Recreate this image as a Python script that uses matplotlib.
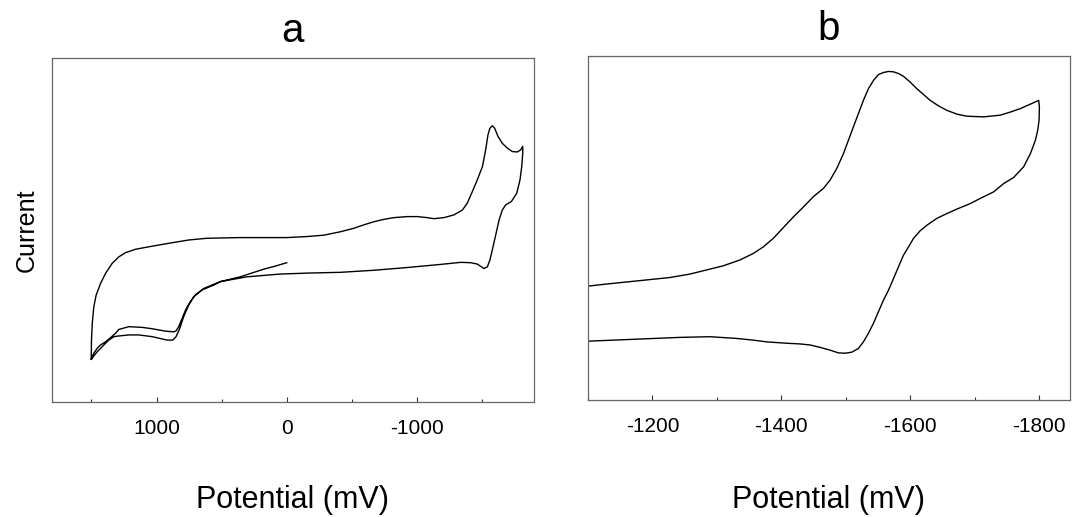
import numpy as np
import matplotlib
matplotlib.use('Agg')
import matplotlib.pyplot as plt
from matplotlib.ticker import MultipleLocator

plt.rcParams['font.family'] = ['Liberation Sans', 'DejaVu Sans']
plt.rcParams['axes.unicode_minus'] = False

# a: full scan, 0 mV -> +1500 -> -1810 -> +1500 (current in arbitrary units)
potential_a = [0, 88, 178, 357, 510, 638, 715, 753, 792, 822, 850, 876, 919, 1034, 1137, 1213, 1290, 1328, 1367,
               1405, 1430, 1456, 1482, 1494, 1502,
               1500, 1494, 1482, 1464, 1430, 1392, 1341, 1290, 1239, 1162, 1034, 881, 753, 613, 356, 0,
               -156, -285, -413, -515, -592, -669, -746, -823, -926, -1003, -1079, -1131, -1208, -1285, -1349,
               -1387, -1426, -1464, -1503, -1528, -1546, -1561, -1579, -1597, -1623, -1656, -1695, -1733, -1772,
               -1797, -1813,
               -1813, -1805, -1792, -1767, -1726, -1682, -1656, -1631, -1605, -1579, -1561, -1541, -1515, -1495,
               -1464, -1413, -1336, -1259, -1182, -926, -669, -413, -180, 50, 305, 510, 561, 650, 702, 740, 778,
               804, 830, 850, 868, 932, 1034, 1111, 1213, 1290, 1315, 1354, 1392, 1430, 1456, 1482, 1494, 1502]
current_a = [40.5, 39.5, 38.6, 36.4, 35.0, 33.0, 30.6, 28.2, 24.8, 21.4, 19.0, 18.0, 18.0, 19.0, 19.5, 19.5, 19.2, 19.0, 18.0,
             16.6, 15.6, 14.6, 13.4, 12.7, 12.4,
             18.0, 22.9, 27.7, 31.1, 34.5, 37.4, 40.3, 42.2, 43.4, 44.4, 45.3, 46.3, 47.1, 47.6, 47.8, 47.8,
             48.1, 48.5, 49.5, 50.5, 51.5, 52.4, 53.1, 53.6, 53.9, 53.9, 53.6, 53.3, 53.6, 54.4, 55.8,
             57.8, 61.2, 64.6, 68.4, 73.3, 77.7, 79.6, 80.3, 79.6, 77.2, 75.2, 73.8, 72.8, 72.7,
             73.3, 74.3,
             72.3, 68.4, 64.6, 60.7, 58.3, 57.3, 55.8, 52.9, 48.5, 44.2, 41.3, 39.3, 38.8, 39.3,
             40.1, 40.5, 40.6, 40.3, 40.0, 39.1, 38.3, 37.7, 37.5, 37.2, 36.4, 35.0, 34.0, 32.6, 31.1, 29.2, 26.7,
             24.3, 21.9, 20.7, 20.4, 20.6, 21.3, 21.7, 21.9, 21.1, 20.0, 18.7, 17.5, 16.6, 15.6, 14.2, 13.2, 12.4]

# b: -1100 -> -1800 -> -1100
potential_b = [-1100.0, -1123.3, -1149.2, -1190.7, -1226.9, -1258.0, -1283.9, -1309.8, -1335.7, -1356.5, -1372.0,
               -1387.6, -1403.1, -1418.6, -1434.2, -1449.7, -1465.3, -1475.6, -1486.0, -1496.4, -1504.1, -1511.9,
               -1519.7, -1527.4, -1535.2, -1543.0, -1550.8, -1558.5, -1566.3, -1574.1, -1581.8, -1589.6, -1600.0,
               -1610.3, -1620.7, -1631.0, -1644.0, -1657.0, -1672.5, -1688.0, -1714.0, -1739.9, -1755.4, -1770.9,
               -1786.5, -1799.4,
               -1800.5, -1800.0, -1797.9, -1794.3, -1786.5, -1776.1, -1760.6, -1745.0, -1729.5, -1708.8, -1693.2,
               -1672.5, -1657.0, -1641.4, -1625.9, -1615.5, -1605.2, -1597.4, -1589.6, -1581.8, -1574.1, -1566.3,
               -1558.5, -1550.8, -1543.0, -1535.2, -1527.4, -1519.7, -1509.3, -1498.9, -1488.6, -1475.6, -1460.1,
               -1444.5, -1429.0, -1408.3, -1392.7, -1377.2, -1356.5, -1330.6, -1289.1, -1242.5, -1190.7, -1139.1,
               -1100.0]
current_b = [33.1, 33.6, 34.1, 34.9, 35.6, 36.6, 37.8, 39.0, 40.7, 42.6, 44.5,
             47.0, 50.1, 53.2, 56.1, 59.1, 61.5, 63.9, 67.3, 71.6, 75.5, 79.4,
             83.3, 87.1, 90.5, 92.9, 94.6, 95.2, 95.5, 95.4, 94.9, 94.1, 92.4,
             90.5, 88.8, 87.1, 85.5, 84.2, 83.1, 82.5, 82.3, 82.8, 83.7, 84.7,
             86.0, 87.1,
             85.2, 81.3, 78.4, 75.5, 71.6, 67.8, 64.7, 62.9, 60.5, 58.6, 57.1,
             55.5, 54.2, 52.8, 50.8, 49.2, 47.0, 44.5, 42.1, 38.7, 35.3, 31.9,
             29.0, 25.7, 22.3, 19.4, 16.9, 15.0, 13.9, 13.6, 13.7, 14.5, 15.3,
             16.0, 16.3, 16.5, 16.7, 16.9, 17.4, 17.9, 18.4, 18.2, 17.8, 17.4,
             17.1]

fig = plt.figure(figsize=(10.73, 5.17), dpi=100)
ax1 = fig.add_axes([0.0485, 0.2224, 0.449, 0.6654])
ax2 = fig.add_axes([0.548, 0.2263, 0.4492, 0.6654])

ax1.plot(potential_a, current_a, color='black', lw=1.0)
ax2.plot(potential_b, current_b, color='black', lw=1.0)

ax1.set_xlim(1803, -1898)
ax1.set_ylim(0, 100)
ax1.xaxis.set_major_locator(MultipleLocator(1000))
ax1.xaxis.set_minor_locator(MultipleLocator(500))

ax2.set_xlim(-1100, -1848)
ax2.set_ylim(0, 100)
ax2.xaxis.set_major_locator(MultipleLocator(200))
ax2.xaxis.set_minor_locator(MultipleLocator(100))

for ax in (ax1, ax2):
    ax.set_yticks([])
    ax.tick_params(axis='x', which='major', direction='in', length=3.6, width=0.8, color='#333333',
                   labelsize=15, pad=12)
    ax.tick_params(axis='x', which='minor', direction='in', length=2.2, width=0.8, color='#333333')
    for s in ax.spines.values():
        s.set_color('#666666')
        s.set_linewidth(0.9)
    ax.set_xlabel('Potential (mV)', fontsize=22)

ax1.xaxis.set_label_coords(0.5, -0.24)
ax2.xaxis.set_label_coords(0.5, -0.246)

ax1.set_ylabel('Current', fontsize=18, va='center')
ax1.yaxis.set_label_coords(-0.0527, 0.5)

ax1.set_title('a', fontsize=29, pad=11.3)
ax2.set_title('b', fontsize=29, pad=11.3)

plt.savefig('out.png', dpi=100)
